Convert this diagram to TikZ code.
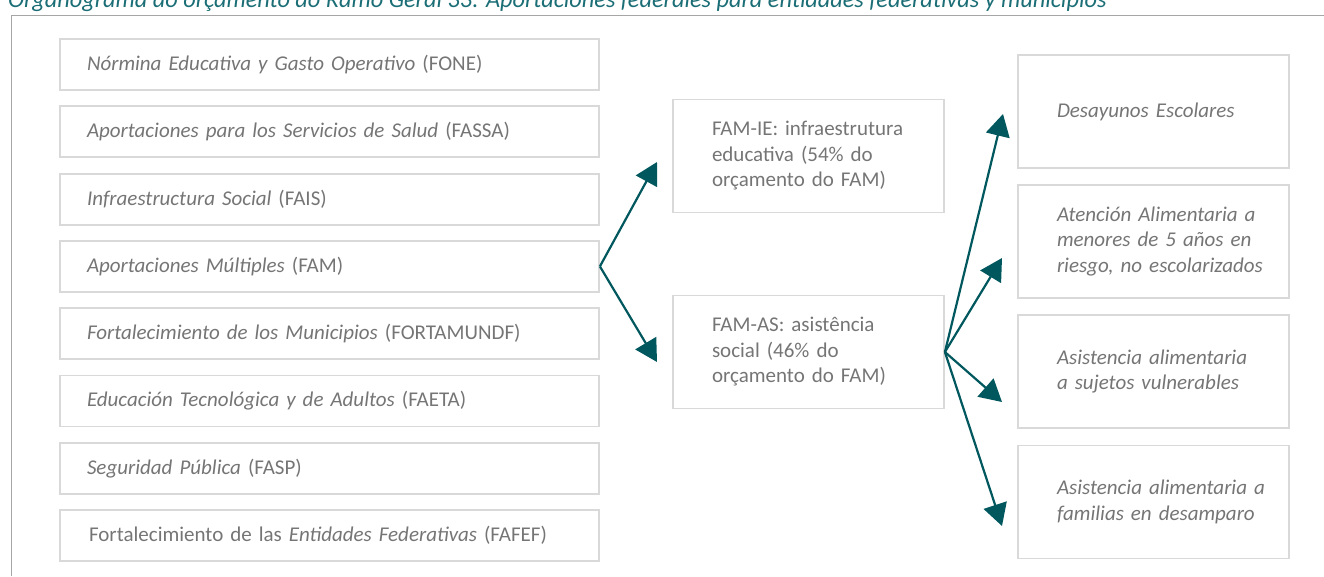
\documentclass[tikz,border=0pt]{standalone}
\usepackage{fontspec}
\setmainfont{Carlito}
\usetikzlibrary{arrows.meta}
\definecolor{arrowc}{HTML}{00585E}
\definecolor{titlec}{HTML}{1C6E76}
\definecolor{boxc}{HTML}{D9D9D9}
\definecolor{txtc}{HTML}{757575}
\definecolor{framec}{HTML}{A6A6A6}
\newcommand{\boxfont}{\fontsize{21}{25.5}\selectfont}
\begin{document}
\begin{tikzpicture}[x=1pt,y=-1pt,
  lbox/.style={draw=boxc, line width=1.8pt, rectangle, minimum width=539pt, minimum height=51pt,
    inner sep=0pt, text width=485pt, align=left, text=txtc, font=\boxfont},
  wbox/.style={draw=boxc, line width=1.8pt, rectangle, minimum width=271pt, minimum height=113pt,
    inner sep=0pt, text width=193pt, align=left, text=txtc, font=\boxfont},
  arr/.style={draw=arrowc, line width=2.2pt, -{Triangle[length=22pt,width=24pt]}}
]
\useasboundingbox (0,0) rectangle (1324,576);
\begin{scope}
\clip (0,0) rectangle (1324,576);
\node[anchor=base west, inner sep=0pt, text=titlec, font=\fontsize{24.3}{28}\selectfont\itshape] (title) at (8,7)
  {Organograma do orçamento do Ramo Geral 33: Aportaciones federales para entidades federativas y municipios};
\end{scope}
\draw[framec, line width=1.5pt] (11.5,576) -- (11.5,15.5) -- (1324,15.5);

% left column
\node[lbox] (fone) at (329.5,64.5) {\textit{Nórmina Educativa y Gasto Operativo} (FONE)};
\node[lbox] (fassa) at (329.5,131.8) {\textit{Aportaciones para los Servicios de Salud} (FASSA)};
\node[lbox] (fais) at (329.5,199.1) {\textit{Infraestructura Social} (FAIS)};
\node[lbox] (fam) at (329.5,266.4) {\textit{Aportaciones Múltiples} (FAM)};
\node[lbox] (fort) at (329.5,333.7) {\textit{Fortalecimiento de los Municipios} (FORTAMUNDF)};
\node[lbox] (faeta) at (329.5,401) {\textit{Educación Tecnológica y de Adultos} (FAETA)};
\node[lbox] (fasp) at (329.5,468.3) {\textit{Seguridad Pública} (FASP)};
\node[lbox] (fafef) at (329.5,535.6) {\hspace{2pt}Fortalecimiento de las \textit{Entidades Federativas} (FAFEF)};

% middle column
\node[wbox] (ie) at (808.5,156) {\mbox{FAM-IE: infraestrutura}\\\mbox{educativa (54\% do}\\\mbox{orçamento do FAM)}};
\node[wbox] (as) at (808.5,352) {\mbox{FAM-AS: asistência}\\\mbox{social (46\% do}\\\mbox{orçamento do FAM)}};

% right column
\node[wbox, font=\boxfont\itshape] (des) at (1153.5,111.5) {\mbox{Desayunos Escolares}};
\node[wbox, font=\boxfont\itshape] (ate) at (1153.5,241.5) {\mbox{Atención Alimentaria a}\\\mbox{menores de 5 años en}\\\mbox{riesgo, no escolarizados}};
\node[wbox, font=\boxfont\itshape] (suj) at (1153.5,371.5) {\mbox{Asistencia alimentaria}\\\mbox{a sujetos vulnerables}};
\node[wbox, font=\boxfont\itshape] (fam2) at (1153.5,502) {\mbox{Asistencia alimentaria a}\\\mbox{familias en desamparo}};

% arrow tips
\coordinate (tie) at (657,162);
\coordinate (tas) at (657,362);
\coordinate (tdes) at (1003,114);
\coordinate (tate) at (1002,258);
\coordinate (tsuj) at (1002,402);
\coordinate (tfam) at (1002,526);

\draw[arr] (fam.east) -- (tie);
\draw[arr] (fam.east) -- (tas);
\draw[arr] (as.east) -- (tdes);
\draw[arr] (as.east) -- (tate);
\draw[arr] (as.east) -- (tsuj);
\draw[arr] (as.east) -- (tfam);
\end{tikzpicture}
\end{document}
